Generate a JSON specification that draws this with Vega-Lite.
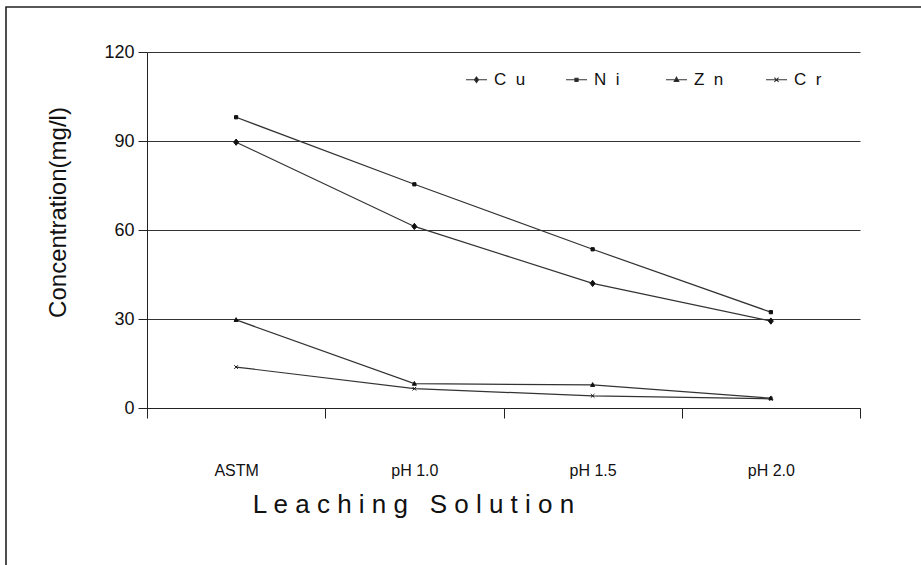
{
  "$schema": "https://vega.github.io/schema/vega-lite/v6.json",
  "width": 921,
  "height": 564,
  "autosize": {"type": "none"},
  "padding": {"left": 6, "top": 7, "right": -6, "bottom": -6},
  "background": "white",
  "config": {
    "font": "Liberation Sans",
    "view": {"stroke": "#222", "strokeWidth": 1.6},
    "axis": {
      "domainColor": "#222",
      "domainWidth": 1,
      "tickColor": "#222",
      "tickWidth": 1,
      "labelColor": "#111",
      "titleColor": "#111",
      "titleFontWeight": "normal",
      "labelFont": "Liberation Sans",
      "titleFont": "Liberation Sans"
    }
  },
  "data": {
    "values": [
      {"solution": "ASTM", "element": "Cu", "conc": 89.6},
      {"solution": "pH 1.0", "element": "Cu", "conc": 61.2},
      {"solution": "pH 1.5", "element": "Cu", "conc": 42.0},
      {"solution": "pH 2.0", "element": "Cu", "conc": 29.3},
      {"solution": "ASTM", "element": "Ni", "conc": 98.0},
      {"solution": "pH 1.0", "element": "Ni", "conc": 75.4},
      {"solution": "pH 1.5", "element": "Ni", "conc": 53.5},
      {"solution": "pH 2.0", "element": "Ni", "conc": 32.3},
      {"solution": "ASTM", "element": "Zn", "conc": 29.7},
      {"solution": "pH 1.0", "element": "Zn", "conc": 8.2},
      {"solution": "pH 1.5", "element": "Zn", "conc": 7.8},
      {"solution": "pH 2.0", "element": "Zn", "conc": 3.3},
      {"solution": "ASTM", "element": "Cr", "conc": 13.8},
      {"solution": "pH 1.0", "element": "Cr", "conc": 6.5},
      {"solution": "pH 1.5", "element": "Cr", "conc": 4.1},
      {"solution": "pH 2.0", "element": "Cr", "conc": 3.1}
    ]
  },
  "encoding": {
    "x": {
      "field": "solution",
      "type": "nominal",
      "sort": null,
      "scale": {"type": "band", "range": [141, 854], "paddingInner": 0, "paddingOuter": 0},
      "axis": {
        "offset": -163,
        "tickBand": "extent",
        "tickSize": 10,
        "labelAngle": 0,
        "labelPadding": 44,
        "labelFontSize": 16,
        "grid": false,
        "title": "L e a c h i n g \u00a0 S o l u t i o n",
        "titleFontSize": 26,
        "titleX": 407,
        "titleY": 104,
        "titleAlign": "center",
        "titleBaseline": "alphabetic"
      }
    },
    "y": {
      "field": "conc",
      "type": "quantitative",
      "scale": {"domain": [0, 120], "range": [401, 45], "nice": false},
      "axis": {
        "offset": -141,
        "values": [0, 30, 60, 90, 120],
        "grid": true,
        "gridColor": "#333",
        "gridWidth": 1,
        "tickSize": 9,
        "labelPadding": 4,
        "labelFontSize": 18,
        "title": "Concentration(mg/l)",
        "titleFontSize": 24,
        "titleX": -89,
        "titleY": 205,
        "titleAlign": "center",
        "titleBaseline": "middle"
      }
    }
  },
  "resolve": {"legend": {"color": "independent", "shape": "independent"}},
  "layer": [
    {
      "mark": {"type": "line", "strokeWidth": 1.2},
      "encoding": {
        "color": {
          "field": "element",
          "type": "nominal",
          "scale": {"domain": ["Cu", "Ni", "Zn", "Cr"], "range": ["#333", "#333", "#333", "#333"]},
          "legend": {
            "orient": "none",
            "legendX": 459,
            "legendY": 61,
            "direction": "horizontal",
            "columns": 4,
            "gridAlign": "all",
            "columnPadding": 37,
            "title": null,
            "symbolSize": 441,
            "symbolStrokeWidth": 1.1,
            "symbolFillColor": "#111",
            "symbolType": {"expr": "datum.value === 'Cu' ? 'M-1,0H1M0,-0.26L0.2,0L0,0.26L-0.2,0Z' : datum.value === 'Ni' ? 'M-1,0H1M-0.15,-0.15H0.15V0.15H-0.15Z' : datum.value === 'Zn' ? 'M-1,0H1M0,-0.24L0.22,0.16H-0.22Z' : 'M-1,0H1M-0.2,-0.2L0.2,0.2M-0.2,0.2L0.2,-0.2'"},
            "labelOffset": 6,
            "labelFontSize": 17,
            "labelColor": "#111",
            "labelExpr": "join(split(datum.label, ''), '\u00a0 ')"
          }
        }
      }
    },
    {
      "mark": {"type": "point", "filled": true, "color": "#111", "opacity": 1, "stroke": "#111", "strokeWidth": 1, "size": 81},
      "encoding": {
        "shape": {
          "field": "element",
          "type": "nominal",
          "scale": {
            "domain": ["Cu", "Ni", "Zn", "Cr"],
            "range": [
              "M0,-0.7L0.55,0L0,0.7L-0.55,0Z",
              "M-0.36,-0.36H0.36V0.36H-0.36Z",
              "M0,-0.5L0.45,0.35H-0.45Z",
              "M-0.4,-0.4L0.4,0.4M-0.4,0.4L0.4,-0.4"
            ]
          },
          "legend": null
        }
      }
    }
  ]
}
